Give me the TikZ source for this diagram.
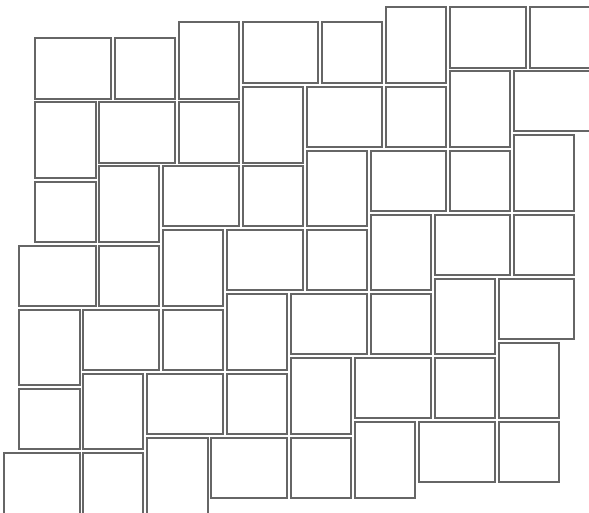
\documentclass[tikz,border=0pt]{standalone}
\usepackage{tikz}

\begin{document}
\begin{tikzpicture}[
    x=1pt, y=-1pt,
    tile/.style={draw=black!60, line width=1.6pt, fill=white}
]
    \useasboundingbox (0,0) rectangle (589,512);
    \clip (0,0) rectangle (589,512);

    % Row 1
    \foreach \xa/\ya/\xb/\yb in {35/38/111/99, 115/38/175/99, 179/22/239/99, 243/22/318/83,
        322/22/382/83, 386/7/446/83, 450/7/526/68, 530/7/606/68}
        \draw[tile] (\xa,\ya) rectangle (\xb,\yb);

    % Row 2
    \foreach \xa/\ya/\xb/\yb in {35/102/96/178, 99/102/175/163, 179/102/239/163, 243/87/303/163,
        307/87/382/147, 386/87/446/147, 450/71/510/147, 514/71/591/131}
        \draw[tile] (\xa,\ya) rectangle (\xb,\yb);

    % Row 3
    \foreach \xa/\ya/\xb/\yb in {35/182/96/242, 99/166/159/242, 163/166/239/226, 243/166/303/226,
        307/151/367/226, 371/151/446/211, 450/151/510/211, 514/135/574/211}
        \draw[tile] (\xa,\ya) rectangle (\xb,\yb);

    % Row 4
    \foreach \xa/\ya/\xb/\yb in {19/246/96/306, 99/246/159/306, 163/230/223/306, 227/230/303/290,
        307/230/367/290, 371/215/431/290, 435/215/510/275, 514/215/574/275}
        \draw[tile] (\xa,\ya) rectangle (\xb,\yb);

    % Row 5
    \foreach \xa/\ya/\xb/\yb in {19/310/80/385, 83/310/159/370, 163/310/223/370, 227/294/287/370,
        291/294/367/354, 371/294/431/354, 435/279/495/354, 499/279/574/339}
        \draw[tile] (\xa,\ya) rectangle (\xb,\yb);

    % Row 6
    \foreach \xa/\ya/\xb/\yb in {19/389/80/449, 83/374/143/449, 147/374/223/434, 227/374/287/434,
        291/358/351/434, 355/358/431/418, 435/358/495/418, 499/343/559/418}
        \draw[tile] (\xa,\ya) rectangle (\xb,\yb);

    % Row 7
    \foreach \xa/\ya/\xb/\yb in {4/453/80/514, 83/453/143/529, 147/438/208/514, 211/438/287/498,
        291/438/351/498, 355/422/415/498, 419/422/495/482, 499/422/559/482}
        \draw[tile] (\xa,\ya) rectangle (\xb,\yb);
\end{tikzpicture}
\end{document}
